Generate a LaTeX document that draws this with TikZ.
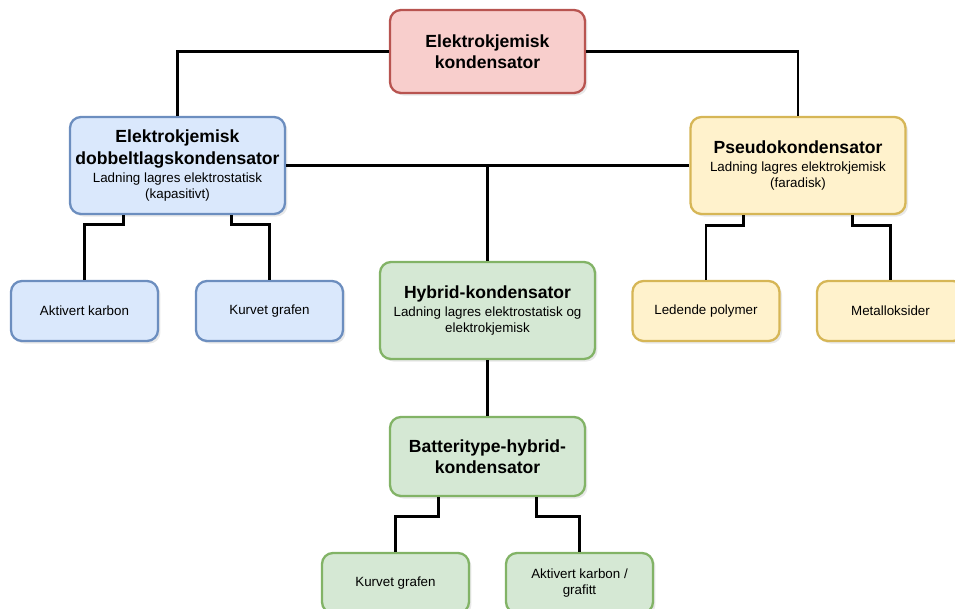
\documentclass[tikz,border=0pt]{standalone}
\usepackage{fontspec}
\setmainfont{Liberation Sans}
\usetikzlibrary{calc, shadows}

\definecolor{redfill}{HTML}{F8CECC}
\definecolor{redline}{HTML}{B85450}
\definecolor{bluefill}{HTML}{DAE8FC}
\definecolor{blueline}{HTML}{6C8EBF}
\definecolor{yellowfill}{HTML}{FFF2CC}
\definecolor{yellowline}{HTML}{D6B656}
\definecolor{greenfill}{HTML}{D5E8D4}
\definecolor{greenline}{HTML}{82B366}

\newcommand{\boxtitlefont}{\fontsize{10}{12}\selectfont\bfseries}
\newcommand{\boxsubfont}{\fontsize{7.6}{9.1}\selectfont}

\begin{document}
\begin{tikzpicture}[every node/.style={draw, shape=rectangle, rounded corners=0.22cm, line width=1.3pt, align=center, inner sep=0pt,
    drop shadow={opacity=0.18, shadow xshift=0.05cm, shadow yshift=-0.05cm}},
  redbox/.style={fill=redfill, draw=redline, minimum width=3.9cm, minimum height=1.66cm, font=\boxtitlefont},
  bluebox/.style={fill=bluefill, draw=blueline},
  yellowbox/.style={fill=yellowfill, draw=yellowline},
  greenbox/.style={fill=greenfill, draw=greenline},
  mainbox/.style={minimum width=4.3cm, minimum height=1.94cm, font=\boxsubfont},
  leafbox/.style={minimum width=2.94cm, minimum height=1.2cm, font=\boxsubfont},
  link/.style={line width=1.7pt, rounded corners=0pt}]
\useasboundingbox (-9.75,1.03) rectangle (9.35,-11.15);
% Define nodes
\path (0,0)
node[redbox] (root) {Elektrokjemisk\\kondensator}
(root) +(-6.2,-2.28) node[bluebox, mainbox] (edlc) {\boxtitlefont Elektrokjemisk\\[1.7pt]\boxtitlefont dobbeltlagskondensator\\[1.1pt]Ladning lagres elektrostatisk\\(kapasitivt)}
(root) +(6.21,-2.28) node[yellowbox, mainbox] (pseudo) {\boxtitlefont Pseudokondensator\\[1.1pt]Ladning lagres elektrokjemisk\\(faradisk)}
(root) +(0,-5.18) node[greenbox, mainbox] (hybrid) {\boxtitlefont Hybrid-kondensator\\[1.1pt]Ladning lagres elektrostatisk og\\elektrokjemisk}
(edlc) +(-1.86,-2.91) node[bluebox, leafbox] (akarbon) {Aktivert karbon}
(edlc) +(1.84,-2.91) node[bluebox, leafbox] (kgrafen) {Kurvet grafen}
(pseudo) +(-1.84,-2.91) node[yellowbox, leafbox] (polymer) {Ledende polymer}
(pseudo) +(1.85,-2.91) node[yellowbox, leafbox] (oksid) {Metalloksider}
(hybrid) +(0,-2.92) node[redbox, greenbox, minimum height=1.58cm] (batteri) {Batteritype-hybrid-\\kondensator}
(batteri) +(-1.84,-2.53) node[greenbox, leafbox] (bgrafen) {Kurvet grafen}
(batteri) +(1.84,-2.53) node[greenbox, leafbox] (bkarbon) {Aktivert karbon /\\grafitt}
;

% Connectors
\draw[link] (root.west) -| (edlc.north);
\draw[link] (root.east) -| (pseudo.north);
\draw[link] (edlc.east) -- (pseudo.west);
\draw[link] (edlc.east -| hybrid.north) -- (hybrid.north);
\draw[link] (hybrid.south) -- (batteri.north);

\draw[link] ($(edlc.south west)!0.25!(edlc.south east)$) -- ++(0,-0.18) -| (akarbon.north);
\draw[link] ($(edlc.south west)!0.75!(edlc.south east)$) -- ++(0,-0.18) -| (kgrafen.north);
\draw[link] ($(pseudo.south west)!0.25!(pseudo.south east)$) -- ++(0,-0.2) -| (polymer.north);
\draw[link] ($(pseudo.south west)!0.75!(pseudo.south east)$) -- ++(0,-0.2) -| (oksid.north);
\draw[link] ($(batteri.south west)!0.25!(batteri.south east)$) -- ++(0,-0.38) -| (bgrafen.north);
\draw[link] ($(batteri.south west)!0.75!(batteri.south east)$) -- ++(0,-0.38) -| (bkarbon.north);

\end{tikzpicture}
\end{document}
